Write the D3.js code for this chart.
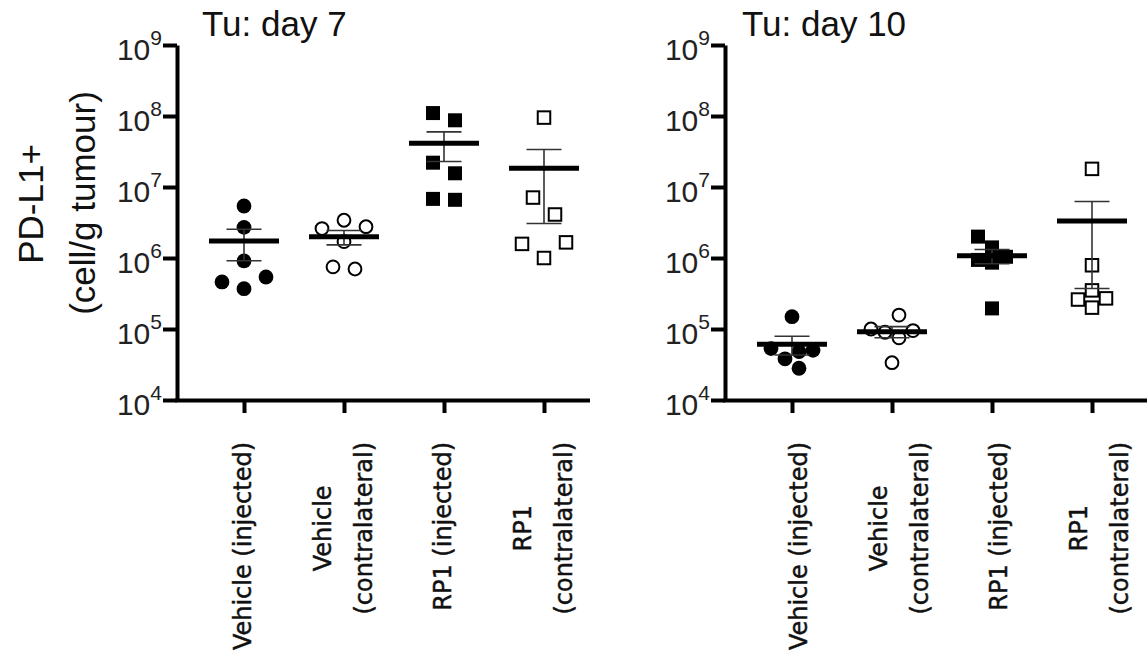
<!DOCTYPE html>
<html>
<head>
<meta charset="utf-8">
<script src="https://cdn.jsdelivr.net/npm/d3@7"></script>
<style>
  html, body { margin: 0; padding: 0; background: #fff; }
  svg { display: block; }
</style>
</head>
<body>
<svg id="chart" width="1147" height="660"></svg>
<script>
// Groups along the x axis ("\n" breaks a label onto a second line)
const categories = ["Vehicle (injected)", "Vehicle\n(contralateral)", "RP1 (injected)", "RP1\n(contralateral)"];
const panelTitles = ["Tu: day 7", "Tu: day 10"];
const yTickValues = [1e4, 1e5, 1e6, 1e7, 1e8, 1e9];
const yTitleLines = ["PD-L1+", "(cell/g tumour)"];

// Day 7: PD-L1+ cells per gram of tumour, one value per animal
const day7VehicleInjected      = [5.4e6, 2.7e6, 9.1e5, 5.4e5, 4.6e5, 3.7e5];
const day7VehicleContralateral = [3.4e6, 2.76e6, 2.6e6, 1.7e6, 7.5e5, 7.0e5];
const day7RP1Injected          = [1.1e8, 8.7e7, 2.2e7, 1.56e7, 6.8e6, 6.6e6];
const day7RP1Contralateral     = [9.5e7, 7.1e6, 4.1e6, 1.66e6, 1.58e6, 1.0e6];

// Day 10
const day10VehicleInjected      = [1.49e5, 5.3e4, 5.0e4, 4.8e4, 3.8e4, 2.8e4];
const day10VehicleContralateral = [1.57e5, 1.0e5, 9.5e4, 9.0e4, 7.5e4, 3.35e4];
const day10RP1Injected          = [2.0e6, 1.41e6, 1.04e6, 9.4e5, 8.6e5, 1.95e5];
const day10RP1Contralateral     = [1.8e7, 7.9e5, 3.5e5, 2.7e5, 2.6e5, 2.0e5];

// Symbol per group: filled/open circle, filled/open square
const markerStyles = [
  { shape: "circle", filled: true },
  { shape: "circle", filled: false },
  { shape: "square", filled: true },
  { shape: "square", filled: false }
];

const panels = [
  { title: panelTitles[0], axisX: 177, axisEnd: 590, titleX: 202, labelDx: -1, step: 22, minDist: 21,
    groups: [day7VehicleInjected, day7VehicleContralateral, day7RP1Injected, day7RP1Contralateral] },
  { title: panelTitles[1], axisX: 725, axisEnd: 1150, titleX: 742, labelDx: 7, step: 14, minDist: 14,
    groups: [day10VehicleInjected, day10VehicleContralateral, day10RP1Injected, day10RP1Contralateral] }
];

const svg = d3.select("#chart");
const ARIAL = "'Liberation Sans', Arial, sans-serif";
const LABEL_FONT = "'DejaVu Sans', sans-serif";
const yTop = 45, yBottom = 400;
const y = d3.scaleLog().domain([1e4, 1e9]).range([yBottom, yTop]);

// Scatter-dot layout: spread points sideways so symbols do not pile up
function swarmOffsets(values, step, minDist) {
  const order = d3.range(values.length).sort((a, b) => values[a] - values[b]);
  const placed = [];
  const off = new Array(values.length);
  for (const i of order) {
    const yi = y(values[i]);
    for (let k = 0; k < 20; k++) {
      const cands = k === 0 ? [0] : [-k * step, k * step];
      const dx = cands.find(c => placed.every(p => Math.hypot(p.dx - c, p.y - yi) >= minDist));
      if (dx !== undefined) { off[i] = dx; placed.push({ i, dx, y: yi }); break; }
    }
  }
  // centre each vertically connected cluster on the group axis
  const byY = placed.slice().sort((a, b) => a.y - b.y);
  let cluster = [byY[0]];
  const flush = () => {
    const lo = d3.min(cluster, p => p.dx), hi = d3.max(cluster, p => p.dx);
    const shift = -(lo + hi) / 2;
    cluster.forEach(p => { off[p.i] = p.dx + shift; });
  };
  for (let j = 1; j < byY.length; j++) {
    if (byY[j].y - byY[j - 1].y < minDist) cluster.push(byY[j]);
    else { flush(); cluster = [byY[j]]; }
  }
  flush();
  return off;
}

// Shared y-axis title
yTitleLines.forEach((line, i) => {
  svg.append("text")
    .attr("transform", `translate(${[30, 82][i]},${[204, 203][i]}) rotate(-90)`)
    .attr("text-anchor", "middle")
    .attr("dominant-baseline", "central")
    .attr("font-family", ARIAL)
    .attr("font-size", 35)
    .attr("fill", "#111")
    .text(line);
});

panels.forEach(panel => {
  const g = svg.append("g");
  const x = d3.scalePoint().domain(categories)
    .range([panel.axisX + 67, panel.axisX + 367]);

  // title
  g.append("text")
    .attr("x", panel.titleX).attr("y", 36)
    .attr("font-family", ARIAL).attr("font-size", 35)
    .attr("fill", "#111")
    .text(panel.title);

  // y axis
  const yAxis = d3.axisLeft(y).tickValues(yTickValues).tickSize(14).tickSizeOuter(0).tickFormat("");
  g.append("g")
    .attr("transform", `translate(${panel.axisX},0)`)
    .call(yAxis)
    .call(s => s.select(".domain").attr("stroke", "#000").attr("stroke-width", 4))
    .call(s => s.selectAll(".tick line").attr("stroke", "#000").attr("stroke-width", 4));

  // y tick labels as powers of ten
  yTickValues.forEach(v => {
    const t = g.append("text")
      .attr("x", panel.axisX - 15)
      .attr("y", y(v) + 15)
      .attr("text-anchor", "end")
      .attr("font-family", ARIAL)
      .attr("font-size", 30)
      .attr("fill", "#222");
    t.append("tspan").text("10");
    t.append("tspan").attr("dy", -15).attr("font-size", 21).text(Math.round(Math.log10(v)));
  });

  // x axis line and ticks
  g.append("line")
    .attr("x1", panel.axisX - 2).attr("x2", panel.axisEnd)
    .attr("y1", yBottom + 0.5).attr("y2", yBottom + 0.5)
    .attr("stroke", "#000").attr("stroke-width", 4);
  const xAxis = d3.axisBottom(x).tickSize(13).tickSizeOuter(0).tickFormat("");
  g.append("g")
    .attr("transform", `translate(0,${yBottom})`)
    .call(xAxis)
    .call(s => s.select(".domain").remove())
    .call(s => s.selectAll(".tick line").attr("stroke", "#000").attr("stroke-width", 4));

  // category labels, rotated, top end just under the ticks
  categories.forEach(cat => {
    const lines = cat.split("\n");
    const cx = x(cat) + panel.labelDx;
    const texts = lines.map(line => g.append("text")
      .attr("text-anchor", "middle")
      .attr("dominant-baseline", "central")
      .attr("font-family", LABEL_FONT)
      .attr("font-size", 24)
      .attr("fill", "#111")
      .attr("stroke", "#111")
      .attr("stroke-width", 0.45)
      .text(line));
    const maxLen = d3.max(texts, t => t.node().getComputedTextLength());
    texts.forEach((t, i) => {
      const sx = cx + (i - (lines.length - 1) / 2) * 41;
      t.attr("transform", `translate(${sx},${442 + maxLen / 2}) rotate(-90)`);
    });
  });

  // data points, mean and SEM
  panel.groups.forEach((vals, gi) => {
    const cat = categories[gi];
    const cx = x(cat);
    const style = markerStyles[gi];
    const offs = swarmOffsets(vals, panel.step, panel.minDist);
    const pts = g.append("g");
    vals.forEach((v, i) => {
      const px = cx + offs[i], py = y(v);
      if (style.shape === "circle") {
        pts.append("circle")
          .attr("cx", px).attr("cy", py)
          .attr("r", style.filled ? 7.4 : 6.4)
          .attr("fill", style.filled ? "#000" : "#fff")
          .attr("stroke", "#000")
          .attr("stroke-width", style.filled ? 0 : 2);
      } else {
        const s = style.filled ? 14 : 12.5;
        pts.append("rect")
          .attr("x", px - s / 2).attr("y", py - s / 2)
          .attr("width", s).attr("height", s)
          .attr("fill", style.filled ? "#000" : "#fff")
          .attr("stroke", "#000")
          .attr("stroke-width", style.filled ? 0 : 2);
      }
    });

    const mean = d3.mean(vals);
    const sem = d3.deviation(vals) / Math.sqrt(vals.length);
    const hi = mean + sem, lo = mean - sem;
    const eb = g.append("g").attr("stroke", "#333").attr("stroke-width", 1.6);
    eb.append("line").attr("x1", cx).attr("x2", cx).attr("y1", y(hi)).attr("y2", y(lo));
    eb.append("line").attr("x1", cx - 17.5).attr("x2", cx + 17.5).attr("y1", y(hi)).attr("y2", y(hi));
    eb.append("line").attr("x1", cx - 17.5).attr("x2", cx + 17.5).attr("y1", y(lo)).attr("y2", y(lo));
    g.append("line")
      .attr("x1", cx - 35).attr("x2", cx + 35)
      .attr("y1", y(mean)).attr("y2", y(mean))
      .attr("stroke", "#000").attr("stroke-width", 5);
  });
});
</script>
</body>
</html>
